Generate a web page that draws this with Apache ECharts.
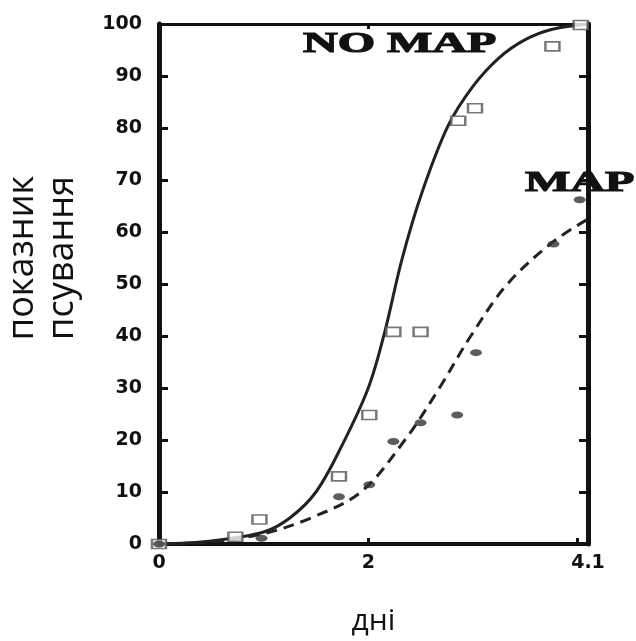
<!DOCTYPE html>
<html>
<head>
<meta charset="utf-8">
<script src="https://cdn.jsdelivr.net/npm/echarts@6.0.0/dist/echarts.min.js"></script>
<style>
  html, body { margin: 0; padding: 0; background: #fff; }
  #chart { width: 636px; height: 641px; }
</style>
</head>
<body>
<div id="chart"></div>
<script>
// x tick labels (days)
const xLabelValues = [0, 2, 4.1];
const xTickValues = [0, 2, 4];

// NO MAP measured points (open squares)
const noMapDays = [0, 0.73, 0.96, 1.72, 2.01, 2.24, 2.5, 2.86, 3.02, 3.76, 4.03];
const noMapValues = [0, 1.4, 4.7, 13, 24.8, 40.8, 40.8, 81.4, 83.8, 95.7, 99.8];

// MAP measured points (filled dots)
const mapDays = [0, 0.98, 1.72, 2.01, 2.24, 2.5, 2.85, 3.03, 3.77, 4.02];
const mapValues = [0, 1.1, 9.1, 11.4, 19.7, 23.3, 24.8, 36.8, 57.7, 66.2];

// fitted curves
const noMapCurveX = [0, 0.5, 1, 1.25, 1.5, 1.75, 2, 2.16, 2.32, 2.51, 2.76, 3, 3.25, 3.5, 3.76, 4.1];
const noMapCurveY = [0, 0.6, 2.3, 5, 10, 19, 30, 41, 54.6, 67.4, 80.3, 88, 93.5, 97, 99, 100];
const mapCurveX = [0, 0.5, 1, 1.45, 1.93, 2.35, 2.68, 2.98, 3.33, 3.76, 4.1];
const mapCurveY = [0, 0.4, 2, 5, 10, 20, 30, 40, 50, 58, 62.5];

const pairs = (xs, ys) => xs.map((x, i) => [x, ys[i]]);

const chart = echarts.init(document.getElementById('chart'));

const frameColor = '#111';
const tickFont = {
  fontFamily: 'DejaVu Sans',
  fontWeight: 'bold',
  fontSize: 19,
  color: '#111',
};

const option = {
  animation: false,
  backgroundColor: '#fff',
  grid: {
    left: 159,
    right: 48,
    top: 24,
    bottom: 97,
    containLabel: false,
    outerBoundsMode: 'none',
  },
  xAxis: [
    {
      type: 'value',
      position: 'bottom',
      min: 0,
      max: 4.1,
      interval: 2,
      name: 'дні',
      nameLocation: 'middle',
      nameGap: 62,
      nameTextStyle: {
        fontFamily: 'Open Sans',
        fontSize: 30,
        color: '#111',
      },
      axisLine: { show: true, onZero: false, lineStyle: { color: frameColor, width: 4 } },
      axisTick: {
        show: true,
        inside: true,
        length: 6,
        customValues: xTickValues,
        lineStyle: { color: frameColor, width: 3 },
      },
      axisLabel: {
        customValues: xLabelValues,
        margin: 10,
        ...tickFont,
      },
      splitLine: { show: false },
    },
    {
      type: 'value',
      position: 'top',
      min: 0,
      max: 4.1,
      interval: 2,
      axisLine: { show: true, onZero: false, lineStyle: { color: frameColor, width: 3 } },
      axisTick: {
        show: true,
        inside: true,
        length: 5,
        customValues: [2],
        lineStyle: { color: frameColor, width: 3 },
      },
      axisLabel: { show: false },
      splitLine: { show: false },
    },
  ],
  yAxis: [
    {
      type: 'value',
      position: 'left',
      min: 0,
      max: 100,
      interval: 10,
      name: 'показник\nпсування',
      nameLocation: 'middle',
      nameGap: 76,
      nameTextStyle: {
        fontFamily: 'Open Sans',
        fontSize: 36,
        lineHeight: 40,
        color: '#111',
        padding: [0, 0, 0, 52],
      },
      axisLine: { show: true, onZero: false, lineStyle: { color: frameColor, width: 5 } },
      axisTick: {
        show: true,
        inside: true,
        length: 9,
        lineStyle: { color: frameColor, width: 3 },
      },
      axisLabel: { margin: 17, ...tickFont },
      splitLine: { show: false },
    },
    {
      type: 'value',
      position: 'right',
      min: 0,
      max: 100,
      interval: 10,
      axisLine: { show: true, onZero: false, lineStyle: { color: frameColor, width: 5 } },
      axisTick: {
        show: true,
        inside: true,
        length: 9,
        lineStyle: { color: frameColor, width: 3 },
      },
      axisLabel: { show: false },
      splitLine: { show: false },
    },
  ],
  series: [
    {
      name: 'NO MAP fit',
      type: 'line',
      data: pairs(noMapCurveX, noMapCurveY),
      smooth: 0.35,
      showSymbol: false,
      lineStyle: { color: '#222', width: 3 },
      z: 3,
    },
    {
      name: 'MAP fit',
      type: 'line',
      data: pairs(mapCurveX, mapCurveY),
      smooth: 0.35,
      showSymbol: false,
      lineStyle: { color: '#222', width: 3, type: [11, 7] },
      z: 3,
    },
    {
      name: 'NO MAP',
      type: 'scatter',
      data: pairs(noMapDays, noMapValues),
      symbol: 'rect',
      symbolSize: [14, 9],
      itemStyle: { color: '#fff', borderColor: '#555', borderWidth: 2 },
      z: 4,
    },
    {
      name: 'MAP',
      type: 'scatter',
      data: pairs(mapDays, mapValues),
      symbol: 'circle',
      symbolSize: [12, 7],
      itemStyle: { color: '#333' },
      z: 4,
    },
  ],
  graphic: [
    {
      type: 'text',
      x: 303,
      y: 59,
      scaleX: 1.6,
      z: 10,
      style: {
        text: 'NO MAP',
        font: 'bold 30px "Liberation Serif"',
        fill: '#111',
        stroke: '#111',
        lineWidth: 1.2,
        textAlign: 'left',
        textVerticalAlign: 'bottom',
      },
    },
    {
      type: 'text',
      x: 525,
      y: 198,
      scaleX: 1.6,
      z: 10,
      style: {
        text: 'MAP',
        font: 'bold 30px "Liberation Serif"',
        fill: '#111',
        stroke: '#111',
        lineWidth: 1.2,
        textAlign: 'left',
        textVerticalAlign: 'bottom',
      },
    },
  ],
};

chart.setOption(option);
</script>
</body>
</html>
